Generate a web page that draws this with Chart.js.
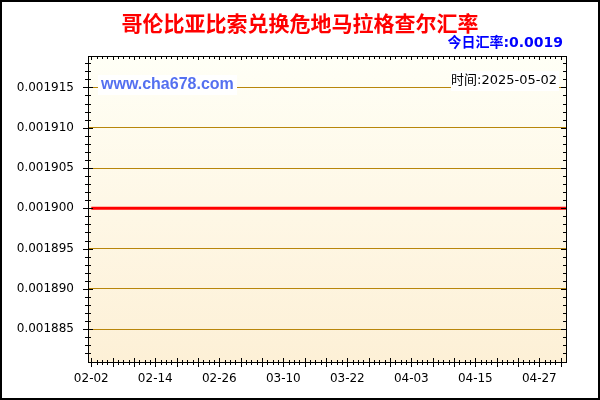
<!DOCTYPE html>
<html>
<head>
<meta charset="utf-8">
<script src="https://cdn.jsdelivr.net/npm/chart.js@4/dist/chart.umd.min.js"></script>
<style>
  html, body { margin: 0; padding: 0; background: #fff; }
  canvas { display: block; }
</style>
</head>
<body>
<canvas id="rateChart" width="600" height="400"></canvas>
<script>
const titleText = '哥伦比亚比索兑换危地马拉格查尔汇率';
const todayText = '今日汇率:0.0019';
const siteText = 'www.cha678.com';
const timeText = '时间:2025-05-02';

// one point per day, 2025-02-02 .. 2025-05-02
const dates = [];
for (let d = new Date(Date.UTC(2025, 1, 2)); d <= new Date(Date.UTC(2025, 4, 2)); d.setUTCDate(d.getUTCDate() + 1)) {
  dates.push(String(d.getUTCMonth() + 1).padStart(2, '0') + '-' + String(d.getUTCDate()).padStart(2, '0'));
}

const rates = [
  // Feb 02 - Feb 28
  0.0019, 0.0019, 0.0019, 0.0019, 0.0019, 0.0019, 0.0019, 0.0019, 0.0019, 0.0019,
  0.0019, 0.0019, 0.0019, 0.0019, 0.0019, 0.0019, 0.0019, 0.0019, 0.0019, 0.0019,
  0.0019, 0.0019, 0.0019, 0.0019, 0.0019, 0.0019, 0.0019,
  // Mar
  0.0019, 0.0019, 0.0019, 0.0019, 0.0019, 0.0019, 0.0019, 0.0019, 0.0019, 0.0019,
  0.0019, 0.0019, 0.0019, 0.0019, 0.0019, 0.0019, 0.0019, 0.0019, 0.0019, 0.0019,
  0.0019, 0.0019, 0.0019, 0.0019, 0.0019, 0.0019, 0.0019, 0.0019, 0.0019, 0.0019,
  0.0019,
  // Apr
  0.0019, 0.0019, 0.0019, 0.0019, 0.0019, 0.0019, 0.0019, 0.0019, 0.0019, 0.0019,
  0.0019, 0.0019, 0.0019, 0.0019, 0.0019, 0.0019, 0.0019, 0.0019, 0.0019, 0.0019,
  0.0019, 0.0019, 0.0019, 0.0019, 0.0019, 0.0019, 0.0019, 0.0019, 0.0019, 0.0019,
  // May 01 - May 02
  0.0019, 0.0019
];

const xTickLabels = ['02-02', '02-14', '02-26', '03-10', '03-22', '04-03', '04-15', '04-27'];
const yTickValues = [0.001885, 0.00189, 0.001895, 0.0019, 0.001905, 0.00191, 0.001915];

const GRID = '#b8860b';

// background, texts, frame and the little tick marks round the plot
const decor = {
  id: 'decor',
  beforeDraw(chart) {
    const { ctx, chartArea: a } = chart;
    ctx.save();
    ctx.fillStyle = '#fff';
    ctx.fillRect(0, 0, chart.width, chart.height);
    const g = ctx.createLinearGradient(0, a.top, 0, a.bottom);
    g.addColorStop(0, '#fffff6');
    g.addColorStop(1, '#fdf0d6');
    ctx.fillStyle = g;
    ctx.fillRect(a.left, a.top, a.right - a.left, a.bottom - a.top);
    ctx.restore();
  },
  afterDraw(chart) {
    const { ctx, chartArea: a } = chart;
    const xs = chart.scales.x, ys = chart.scales.y;
    ctx.save();

    // white boxes with watermark + date
    ctx.fillStyle = '#fff';
    ctx.fillRect(98, 75, 139, 20);
    ctx.fillRect(451, 71, 108, 20);
    ctx.textBaseline = 'middle';
    ctx.font = 'bold 16px "Liberation Sans", Arial, sans-serif';
    ctx.fillStyle = '#5470f0';
    ctx.textAlign = 'left';
    ctx.fillText(siteText, 101, 85);
    ctx.font = '13px "DejaVu Sans", "Noto Sans CJK SC", sans-serif';
    ctx.fillStyle = '#000';
    ctx.textAlign = 'right';
    ctx.fillText(timeText, 557, 81);

    // titles
    ctx.textAlign = 'center';
    ctx.font = 'bold 21px "Noto Sans CJK SC", sans-serif';
    ctx.fillStyle = '#ff0000';
    ctx.fillText(titleText, 300, 23);
    ctx.textAlign = 'right';
    ctx.font = 'bold 14px "DejaVu Sans", "Noto Sans CJK SC", sans-serif';
    ctx.fillStyle = '#0000ff';
    ctx.fillText(todayText, 563, 43);

    // plot frame
    ctx.strokeStyle = '#000';
    ctx.lineWidth = 1;
    ctx.strokeRect(a.left + 0.5, a.top + 0.5, a.right - a.left - 1, a.bottom - a.top - 1);

    ctx.beginPath();
    // y ticks, every 0.000001, long every 0.000005
    for (let k = 1881; k <= 1918; k++) {
      const y = Math.round(ys.getPixelForValue(k / 1e6)) + 0.5;
      if (y < a.top + 2 || y > a.bottom - 2) continue;
      const len = k % 5 === 0 ? 5 : 3;
      ctx.moveTo(a.left - len, y); ctx.lineTo(a.left + len, y);
      ctx.moveTo(a.right - 1, y); ctx.lineTo(a.right - 1 - len, y);
    }
    // x ticks, daily, longer every 4 days
    for (let i = 0; i < dates.length; i++) {
      const x = Math.round(xs.getPixelForValue(i)) + 0.5;
      if (x < a.left + 2 || x > a.right - 2) continue;
      const big = i % 4 === 0;
      ctx.moveTo(x, a.bottom - (big ? 5 : 3)); ctx.lineTo(x, a.bottom + (big ? 4 : 2));
      ctx.moveTo(x, a.top); ctx.lineTo(x, a.top + (big ? 4 : 3));
    }
    ctx.stroke();

    // outer border
    ctx.lineWidth = 2;
    ctx.strokeRect(1, 1, chart.width - 2, chart.height - 2);
    ctx.restore();
  }
};

new Chart(document.getElementById('rateChart'), {
  type: 'line',
  data: {
    datasets: [{
      data: dates.map((d, i) => ({ x: i, y: rates[i] })),
      borderColor: '#ff0000',
      borderWidth: 3,
      pointRadius: 0,
      tension: 0
    }]
  },
  options: {
    responsive: false,
    animation: false,
    devicePixelRatio: 1,
    layout: { padding: { left: 0, right: 33, top: 56, bottom: 0 } },
    plugins: { legend: { display: false }, title: { display: false }, tooltip: { enabled: false } },
    scales: {
      x: {
        type: 'linear',
        min: -0.62,
        max: 89.19,
        afterBuildTicks: (s) => {
          s.ticks = xTickLabels.map(l => ({ value: dates.indexOf(l) }));
        },
        afterFit: (s) => { s.height = 37; },
        grid: { display: false, drawTicks: false },
        border: { display: false },
        ticks: {
          autoSkip: false,
          maxRotation: 0,
          padding: 9,
          color: '#000',
          font: { family: '"DejaVu Sans", sans-serif', size: 12 },
          callback: (v) => dates[v]
        }
      },
      y: {
        min: 0.0018808,
        max: 0.0019189,
        afterBuildTicks: (s) => {
          s.ticks = yTickValues.map(v => ({ value: v }));
        },
        afterFit: (s) => { s.width = 88; },
        grid: { color: GRID, lineWidth: 1, drawTicks: false },
        border: { display: false },
        ticks: {
          padding: 14,
          color: '#000',
          font: { family: '"DejaVu Sans", sans-serif', size: 12 },
          callback: (v) => v.toFixed(6)
        }
      }
    }
  },
  plugins: [decor]
});
</script>
</body>
</html>
